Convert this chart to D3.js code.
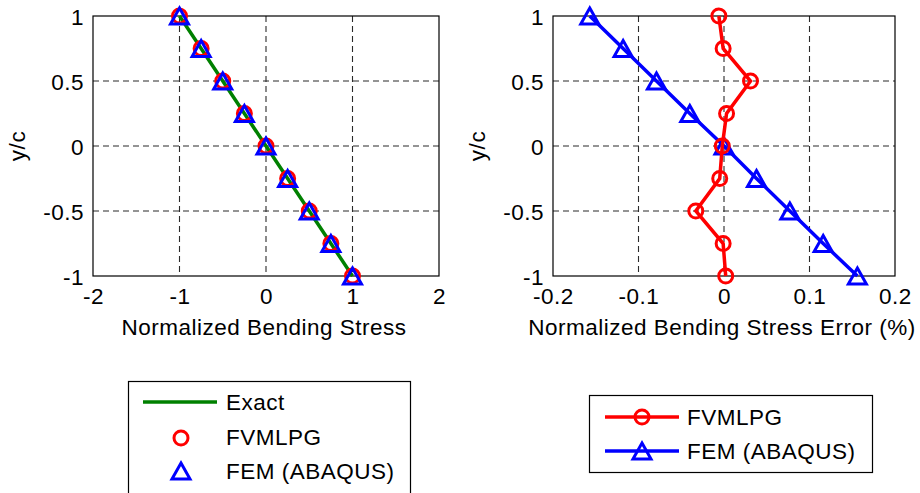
<!DOCTYPE html>
<html><head><meta charset="utf-8">
<script src="https://cdn.jsdelivr.net/npm/d3@7"></script>
<style>
html,body{margin:0;padding:0;background:#fff;}
svg text{font-family:"Liberation Sans",Arial,Helvetica,sans-serif;fill:#000;}
</style></head>
<body>
<svg id="c" width="920" height="493"></svg>
<script>
// ---- data ----
const yc = [1, 0.75, 0.5, 0.25, 0, -0.25, -0.5, -0.75, -1];
const exactStress = [-1, -0.75, -0.5, -0.25, 0, 0.25, 0.5, 0.75, 1];
const fvmlpgStress = [-1, -0.75, -0.5, -0.25, 0, 0.25, 0.5, 0.75, 1];
const femStress = [-1, -0.75, -0.5, -0.25, 0, 0.25, 0.5, 0.75, 1];
const fvmlpgError = [-0.006, -0.001, 0.031, 0.003, -0.002, -0.005, -0.033, -0.001, 0.002];
const femError = [-0.157, -0.118, -0.079, -0.040, 0, 0.038, 0.077, 0.116, 0.156];
const leftXTicks = [-2, -1, 0, 1, 2];
const rightXTicks = [-0.2, -0.1, 0, 0.1, 0.2];
const yTicks = [-1, -0.5, 0, 0.5, 1];
const leftXLabel = "Normalized Bending Stress";
const rightXLabel = "Normalized Bending Stress Error (%)";
const yLabel = "y/c";

const svg = d3.select("#c");
const FS = 22.5, LS = "0.5px";
const RED = "#ff0000", BLUE = "#0000ff", GREEN = "#008000";
const triPath = "M0,-8L9,8L-9,8Z";
const fmtNum = d => String(d);

function panel(x0, x1, y0, y1, xdom, xticks, xlabel) {
  const x = d3.scaleLinear().domain(xdom).range([x0, x1]);
  const y = d3.scaleLinear().domain([-1, 1]).range([y1, y0]);
  const g = svg.append("g");
  g.selectAll(".gx").data(xticks.slice(1, -1)).join("line")
    .attr("x1", d => x(d)).attr("x2", d => x(d)).attr("y1", y0).attr("y2", y1)
    .attr("stroke", "#2a2a2a").attr("stroke-width", 1.1).attr("stroke-dasharray", "6,4");
  g.selectAll(".gy").data(yTicks.slice(1, -1)).join("line")
    .attr("y1", d => y(d)).attr("y2", d => y(d)).attr("x1", x0).attr("x2", x1)
    .attr("stroke", "#2a2a2a").attr("stroke-width", 1.1).attr("stroke-dasharray", "6,4");
  g.append("rect").attr("x", x0).attr("y", y0).attr("width", x1 - x0).attr("height", y1 - y0)
    .attr("fill", "none").attr("stroke", "#000").attr("stroke-width", 1.2);
  const ax = g.append("g").attr("transform", `translate(0,${y1})`)
    .call(d3.axisBottom(x).tickValues(xticks).tickSize(0).tickPadding(0).tickFormat(fmtNum));
  ax.select(".domain").remove();
  ax.selectAll("text").attr("y", 28).attr("dy", 0).style("font-size", FS + "px")
    .style("letter-spacing", LS).style("fill", "#000").style("font-family", "Liberation Sans, Arial, sans-serif");
  const ay = g.append("g").attr("transform", `translate(${x0},0)`)
    .call(d3.axisLeft(y).tickValues(yTicks).tickSize(0).tickPadding(0).tickFormat(fmtNum));
  ay.select(".domain").remove();
  ay.selectAll("text").attr("x", -9).attr("dy", "0.36em").style("font-size", FS + "px")
    .style("letter-spacing", LS).style("fill", "#000").style("font-family", "Liberation Sans, Arial, sans-serif");
  g.append("text").attr("x", (x0 + x1) / 2 - 2).attr("y", y1 + 59).attr("text-anchor", "middle")
    .style("font-size", FS + "px").style("letter-spacing", LS).text(xlabel);
  g.append("text").attr("transform", `translate(${x0 - 68},${(y0 + y1) / 2}) rotate(-90)`)
    .attr("text-anchor", "middle").style("font-size", FS + "px").style("letter-spacing", LS).text(yLabel);
  return {x, y, g};
}

const line = (xs, sc) => d3.line().x((d, i) => sc.x(xs[i])).y(d => sc.y(d));
// left
const L = panel(93, 439, 16, 276, [-2, 2], leftXTicks, leftXLabel);
L.g.append("path").attr("d", line(exactStress, L)(yc)).attr("fill", "none")
  .attr("stroke", GREEN).attr("stroke-width", 3.5);
L.g.selectAll(".c").data(yc).join("circle").attr("cx", (d, i) => L.x(fvmlpgStress[i])).attr("cy", d => L.y(d))
  .attr("r", 7).attr("fill", "none").attr("stroke", RED).attr("stroke-width", 3);
L.g.selectAll(".t").data(yc).join("path").attr("d", triPath)
  .attr("transform", (d, i) => `translate(${L.x(femStress[i])},${L.y(d)})`)
  .attr("fill", "none").attr("stroke", BLUE).attr("stroke-width", 3);

// right
const R = panel(553, 895, 16, 276, [-0.2, 0.2], rightXTicks, rightXLabel);
R.g.append("path").attr("d", line(femError, R)(yc)).attr("fill", "none")
  .attr("stroke", BLUE).attr("stroke-width", 3.5);
R.g.selectAll(".t").data(yc).join("path").attr("d", triPath)
  .attr("transform", (d, i) => `translate(${R.x(femError[i])},${R.y(d)})`)
  .attr("fill", "none").attr("stroke", BLUE).attr("stroke-width", 3);
R.g.append("path").attr("d", line(fvmlpgError, R)(yc)).attr("fill", "none")
  .attr("stroke", RED).attr("stroke-width", 3.5);
R.g.selectAll(".c").data(yc).join("circle").attr("cx", (d, i) => R.x(fvmlpgError[i])).attr("cy", d => R.y(d))
  .attr("r", 7).attr("fill", "none").attr("stroke", RED).attr("stroke-width", 3);

// legends
const lg1 = svg.append("g");
lg1.append("rect").attr("x", 128.5).attr("y", 381.5).attr("width", 282).attr("height", 120)
  .attr("fill", "#fff").attr("stroke", "#000").attr("stroke-width", 1.2);
lg1.append("line").attr("x1", 143).attr("x2", 217).attr("y1", 402).attr("y2", 402)
  .attr("stroke", GREEN).attr("stroke-width", 3.5);
lg1.append("circle").attr("cx", 181).attr("cy", 438).attr("r", 7).attr("fill", "none")
  .attr("stroke", RED).attr("stroke-width", 3);
lg1.append("path").attr("d", triPath).attr("transform", "translate(181,471)")
  .attr("fill", "none").attr("stroke", BLUE).attr("stroke-width", 3);
[["Exact", 402], ["FVMLPG", 437], ["FEM (ABAQUS)", 471]].forEach(([t, yy]) =>
  lg1.append("text").attr("x", 226).attr("y", yy).attr("dy", "0.36em")
    .style("font-size", FS + "px").style("letter-spacing", LS).text(t));

const lg2 = svg.append("g");
lg2.append("rect").attr("x", 589.5).attr("y", 395.5).attr("width", 283).attr("height", 77)
  .attr("fill", "#fff").attr("stroke", "#000").attr("stroke-width", 1.2);
lg2.append("line").attr("x1", 605).attr("x2", 679).attr("y1", 417).attr("y2", 417)
  .attr("stroke", RED).attr("stroke-width", 3.5);
lg2.append("circle").attr("cx", 642).attr("cy", 417).attr("r", 7).attr("fill", "none")
  .attr("stroke", RED).attr("stroke-width", 3);
lg2.append("line").attr("x1", 605).attr("x2", 679).attr("y1", 451).attr("y2", 451)
  .attr("stroke", BLUE).attr("stroke-width", 3.5);
lg2.append("path").attr("d", triPath).attr("transform", "translate(642,451)")
  .attr("fill", "none").attr("stroke", BLUE).attr("stroke-width", 3);
[["FVMLPG", 417], ["FEM (ABAQUS)", 451]].forEach(([t, yy]) =>
  lg2.append("text").attr("x", 687).attr("y", yy).attr("dy", "0.36em")
    .style("font-size", FS + "px").style("letter-spacing", LS).text(t));
</script>
</body></html>
